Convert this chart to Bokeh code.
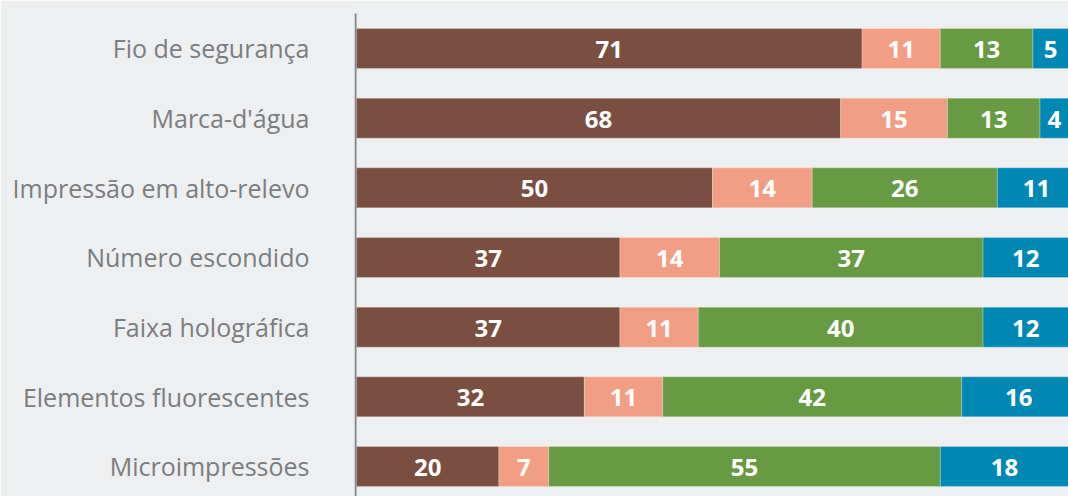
from bokeh.plotting import figure
from bokeh.models import Range1d, FixedTicker, ColumnDataSource
from bokeh.core.properties import value
from bokeh.embed import file_html
from bokeh.resources import INLINE

categories = [
    "Fio de segurança",
    "Marca-d'água",
    "Impressão em alto-relevo",
    "Número escondido",
    "Faixa holográfica",
    "Elementos fluorescentes",
    "Microimpressões",
]
series_a = [71, 68, 50, 37, 37, 32, 20]
series_b = [11, 15, 14, 14, 11, 11, 7]
series_c = [13, 13, 26, 37, 40, 42, 55]
series_d = [5, 4, 11, 12, 12, 16, 18]
colors = ["#7a4f42", "#f29e84", "#679a43", "#0088b5"]
keys = ["a", "b", "c", "d"]

BG = "#eeeff0"
ypos = list(range(len(categories)))

data = dict(y=ypos, a=series_a, b=series_b, c=series_c, d=series_d)
src = ColumnDataSource(data)

p = figure(
    width=1068, height=496,
    x_range=Range1d(-0.281, 100.0),
    y_range=Range1d(6.431, -0.689),
    output_backend="svg", toolbar_location=None,
    min_border_left=354, min_border_right=0,
    min_border_top=0, min_border_bottom=0,
    background_fill_color=BG, border_fill_color=BG,
    outline_line_color=None,
)

p.hbar_stack(keys, y="y", height=0.574, color=colors, source=src,
             line_color="white", line_alpha=0.25, line_width=1)

# value labels centred in each segment
lx, ly, lt = [], [], []
for i in ypos:
    left = 0
    for vals in (series_a, series_b, series_c, series_d):
        v = vals[i]
        lx.append(left + v / 2)
        ly.append(i)
        lt.append(str(v))
        left += v
p.text(x=lx, y=ly, text=lt, text_align="center", text_baseline="middle",
       text_color="white", text_font=value("Open Sans"),
       text_font_style="bold", text_font_size="24px", y_offset=1)

# vertical axis rule
p.segment(x0=[-0.14], x1=[-0.14], y0=[-0.502], y1=[6.431],
          line_color="#7d8287", line_width=2)

p.xaxis.visible = False
p.grid.visible = False

ax = p.yaxis[0]
ax.ticker = FixedTicker(ticks=ypos)
ax.major_label_overrides = {i: c for i, c in zip(ypos, categories)}
ax.axis_line_color = None
ax.major_tick_line_color = None
ax.minor_tick_line_color = None
ax.major_label_standoff = 39
ax.major_label_text_font = "Open Sans"
ax.major_label_text_font_size = "25px"
ax.major_label_text_color = "#7b7d80"

open("out.html", "w").write(file_html(p, INLINE))
